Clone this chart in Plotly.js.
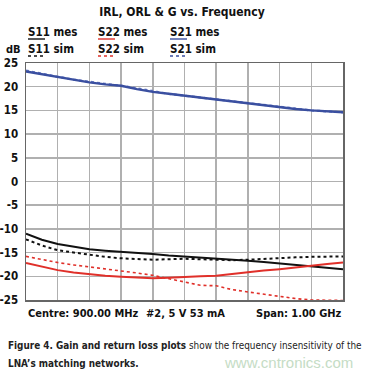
<!DOCTYPE html>
<html><head><meta charset="utf-8">
<script src="https://cdn.plot.ly/plotly-3.0.1.min.js"></script>
<style>html,body{margin:0;padding:0;background:#fff}#c{width:374px;height:376px}</style>
</head><body><div id="c"></div>
<script>
const freqMHz = [400,450,500,550,600,650,700,750,800,850,900,950,1000,1050,1100,1150,1200,1250,1300,1350,1400];
const s21Mes = [23.2,22.6,22.0,21.4,20.9,20.5,20.2,19.5,18.9,18.5,18.1,17.6,17.2,16.9,16.5,16.1,15.7,15.3,15.0,14.8,14.6];
const s21Sim = [23.4,22.7,22.1,21.5,21.0,20.6,20.2,19.6,19.0,18.5,18.1,17.7,17.3,16.9,16.5,16.1,15.8,15.4,15.0,14.8,14.6];
const s11Mes = [-11.0,-12.3,-13.2,-13.8,-14.3,-14.6,-14.8,-15.1,-15.3,-15.6,-15.8,-16.0,-16.2,-16.4,-16.7,-17.0,-17.3,-17.6,-17.9,-18.2,-18.5];
const s11Sim = [-12.2,-13.5,-14.5,-15.0,-15.5,-15.9,-16.2,-16.4,-16.5,-16.4,-16.3,-16.4,-16.5,-16.6,-16.5,-16.3,-16.2,-16.0,-15.9,-15.9,-15.8];
const s22Mes = [-17.2,-18.0,-18.7,-19.2,-19.6,-19.9,-20.1,-20.3,-20.4,-20.3,-20.1,-20.0,-19.9,-19.5,-19.1,-18.8,-18.5,-18.1,-17.8,-17.4,-17.1];
const s22Sim = [-15.8,-16.5,-17.1,-17.6,-18.0,-18.5,-18.9,-19.3,-19.8,-20.5,-21.2,-21.9,-22.0,-22.8,-23.3,-23.8,-24.2,-24.7,-25.0,-25.1,-25.1];
const yTicks = [-25,-20,-15,-10,-5,0,5,10,15,20,25];
const yTickLabels = ["-25","-20","-15","-10","-5","0","5","10","15","20","25"];
const legendNames = [["S11","mes"],["S11","sim"],["S22","mes"],["S22","sim"],["S21","mes"],["S21","sim"]];

const BLACK='#111111', RED='#e0302a', BLUE='#3a4fa0';
const F = '"DejaVu Sans Condensed","DejaVu Sans",sans-serif';
const fnt = (size,color,w) => ({family:F,size:size,color:color||'#111',stretch:'condensed',weight:w||'normal'});

const traces = [
  {x:freqMHz,y:s21Sim,mode:'lines',line:{color:'#6a7cc4',width:2.2,dash:'dot'}},
  {x:freqMHz,y:s21Mes,mode:'lines',line:{color:BLUE,width:2.4}},
  {x:freqMHz,y:s11Sim,mode:'lines',line:{color:BLACK,width:2,dash:'dot'}},
  {x:freqMHz,y:s11Mes,mode:'lines',line:{color:BLACK,width:2}},
  {x:freqMHz,y:s22Sim,mode:'lines',line:{color:RED,width:1.6,dash:'dot'}},
  {x:freqMHz,y:s22Mes,mode:'lines',line:{color:RED,width:2}}
];

const px = v => (v-26)/317, py = v => (300-v)/237;

const colX = [27,97,169];
const colColor = [BLACK,RED,BLUE];
const ann = [], shapes = [];
legendNames.forEach((n,i)=>{
  const col = Math.floor(i/2), row = i%2;
  const x0 = colX[col];
  ann.push({xref:'paper',yref:'paper',x:px(x0-1),y:py(row?49:32),xanchor:'left',yanchor:'middle',
    text:'<b>'+n[0]+' '+n[1]+'</b>',showarrow:false,font:fnt(11.5)});
  shapes.push({type:'line',xref:'paper',yref:'paper',x0:px(x0+1),x1:px(x0+18),y0:py(row?56:39),y1:py(row?56:39),
    line:{color:colColor[col],width:row?1.6:1.4,dash:row?'dot':'solid'}});
});
ann.push({xref:'paper',yref:'paper',x:px(23),y:py(49),xanchor:'right',yanchor:'middle',text:'<b>dB</b>',showarrow:false,font:fnt(11)});
ann.push({xref:'paper',yref:'paper',x:px(26),y:py(313),xanchor:'left',yanchor:'middle',text:'<b>Centre: 900.00 MHz</b>',showarrow:false,font:fnt(11)});
ann.push({xref:'paper',yref:'paper',x:px(185),y:py(313),xanchor:'center',yanchor:'middle',text:'<b>#2, 5 V 53 mA</b>',showarrow:false,font:fnt(11)});
ann.push({xref:'paper',yref:'paper',x:px(344),y:py(313),xanchor:'right',yanchor:'middle',text:'<b>Span: 1.00 GHz</b>',showarrow:false,font:fnt(11)});
ann.push({xref:'paper',yref:'paper',x:px(355),y:py(362),xanchor:'right',yanchor:'middle',text:'www.cntronics.com',showarrow:false,font:{family:'Liberation Sans,Arial,sans-serif',size:15,color:'#c5dcc5'}});
ann.push({xref:'paper',yref:'paper',x:px(6),y:py(345),xanchor:'left',yanchor:'middle',text:'<b>Figure 4. Gain and return loss plots</b> show the frequency insensitivity of the',showarrow:false,font:fnt(9.9,'#222')});
ann.push({xref:'paper',yref:'paper',x:px(6),y:py(363),xanchor:'left',yanchor:'middle',text:'<b>LNA\u2019s matching networks.</b>',showarrow:false,font:fnt(9.9,'#222')});

const layout = {
  width:374,height:376,
  margin:{l:26,r:31,t:63,b:76},
  paper_bgcolor:'#fff',plot_bgcolor:'#fff',
  showlegend:false,
  title:{text:'<b>IRL, ORL & G vs. Frequency</b>',x:182/374,xanchor:'center',y:1-12/376,yanchor:'middle',font:fnt(12)},
  xaxis:{range:[400,1400],dtick:100,tick0:400,showticklabels:false,ticks:'',showgrid:true,gridcolor:'#b0b0b0',gridwidth:1.5,zeroline:false,showline:true,linecolor:'#666',linewidth:1.5,mirror:true},
  yaxis:{range:[-25,25],tickvals:yTicks,ticktext:yTickLabels,ticks:'',showgrid:true,gridcolor:'#b0b0b0',gridwidth:1.5,zeroline:false,showline:true,linecolor:'#666',linewidth:1.5,mirror:true,
    tickfont:fnt(11.5,'#111','bold'),ticklabelstandoff:4},
  annotations:ann,shapes:shapes
};
Plotly.newPlot('c',traces,layout,{staticPlot:true,displayModeBar:false});
</script></body></html>
